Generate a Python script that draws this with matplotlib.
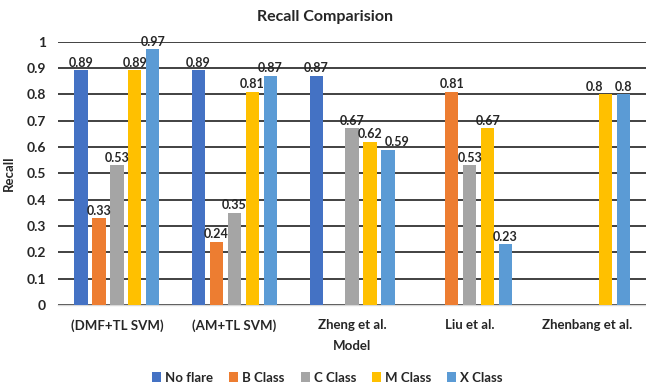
import numpy as np
import matplotlib
matplotlib.use("Agg")
import matplotlib.pyplot as plt

plt.rcParams['font.family'] = ['Lato', 'DejaVu Sans']

models = ["(DMF+TL SVM)", "(AM+TL SVM)", "Zheng et al.", "Liu et al.", "Zhenbang et al."]
classes = ["No flare", "B Class", "C Class", "M Class", "X Class"]
no_flare = [0.89, 0.89, 0.87, np.nan, np.nan]
b_class = [0.33, 0.24, np.nan, 0.81, np.nan]
c_class = [0.53, 0.35, 0.67, 0.53, np.nan]
m_class = [0.89, 0.81, 0.62, 0.67, 0.80]
x_class = [0.97, 0.87, 0.59, 0.23, 0.80]
series = [no_flare, b_class, c_class, m_class, x_class]
colors = ["#4472C4", "#ED7D31", "#A5A5A5", "#FFC000", "#5B9BD5"]
yticks = [0, 0.1, 0.2, 0.3, 0.4, 0.5, 0.6, 0.7, 0.8, 0.9, 1]

# horizontal nudges (in category units) for labels that would collide
label_nudge = {(3, 4): -0.09, (4, 2): 0.08}

txt = "#262626"
fig = plt.figure(figsize=(6.46, 3.88), dpi=100)
ax = fig.add_axes([0.090, 0.214, 0.910, 0.679])

x = np.arange(len(models))
step = 0.153
width = 0.112
for i, (vals, col, name) in enumerate(zip(series, colors, classes)):
    pos = x + (i - 2) * step
    vals = np.array(vals, dtype=float)
    ax.bar(pos, vals, width=width, color=col, label=name, zorder=3)
    for j, (p, v) in enumerate(zip(pos, vals)):
        if not np.isnan(v):
            ax.text(p + label_nudge.get((i, j), 0), v + 0.005, f"{v:g}",
                    ha="center", va="bottom", fontsize=9, fontweight="bold",
                    color=txt, zorder=4)

ax.set_xlim(-0.5, len(models) - 0.5)
ax.set_ylim(0, 1)
ax.set_yticks(yticks)
ax.set_yticklabels([f"{t:g}" for t in yticks], fontsize=10, fontweight="bold", color=txt)
ax.set_xticks(x)
ax.set_xticklabels(models, fontsize=9.5, fontweight="bold", color=txt)
ax.tick_params(axis="y", length=0, pad=9)
ax.tick_params(axis="x", length=0, pad=10)
ax.grid(axis="y", color="#333333", linewidth=1.3, zorder=0)
ax.set_axisbelow(True)
for s in ["top", "right", "left"]:
    ax.spines[s].set_visible(False)
ax.spines["bottom"].set_color("#d9d9d9")
ax.spines["bottom"].set_linewidth(1.0)
ax.spines["bottom"].set_zorder(2)

ax.set_ylabel("Recall", fontsize=9.5, fontweight="bold", color=txt, labelpad=8)
ax.set_xlabel("Model", fontsize=9.5, fontweight="bold", color=txt, labelpad=6)
fig.text(0.503, 0.955, "Recall Comparision", ha="center", va="center",
         fontsize=11.5, fontweight="bold", color=txt)

fig.legend(loc="center", bbox_to_anchor=(0.507, 0.027), ncol=5, frameon=False,
           prop={"size": 9.5, "weight": "bold"}, handlelength=0.7, handleheight=0.7,
           handletextpad=0.3, columnspacing=1.2, labelcolor=txt)

fig.savefig("out.png", dpi=100)
